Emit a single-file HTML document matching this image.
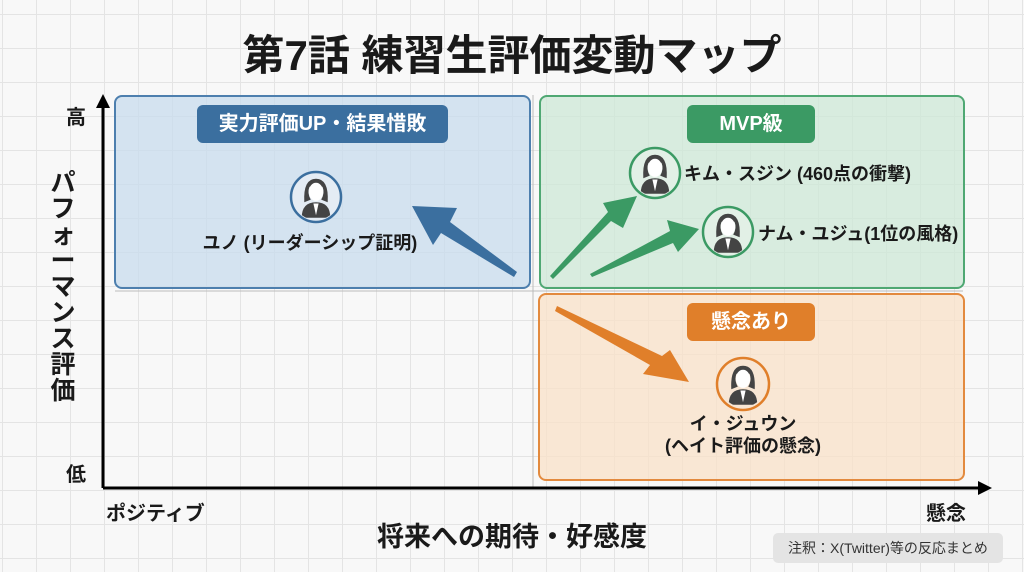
<!DOCTYPE html>
<html><head><meta charset="utf-8"><style>
body{margin:0;width:1024px;height:572px;overflow:hidden;background:#f8f8f8;font-family:"Liberation Sans","Noto Sans CJK JP",sans-serif;}
.g{position:absolute;left:0;top:0;width:1024px;height:572px;background-image:linear-gradient(#e4e4e4 1px,transparent 1px),linear-gradient(90deg,#e4e4e4 1px,transparent 1px);background-size:34px 34px;background-position:2px 14px;}
.t{position:absolute;font-weight:bold;color:#1a1a1a;white-space:nowrap;}
.box{position:absolute;border-radius:8px;border:2px solid;}
.pill{position:absolute;border-radius:6px;color:#fff;font-weight:bold;font-size:20px;text-align:center;line-height:38px;}
</style></head><body>
<div class="g"></div>
<div class="t" style="left:0;width:1024px;top:22px;text-align:center;font-size:42px;">第7話 練習生評価変動マップ</div>
<div class="box" style="left:114px;top:95px;width:413px;height:190px;background:rgba(200,220,238,0.75);border-color:#4d7fae;"></div>
<div class="box" style="left:539px;top:95px;width:422px;height:190px;background:rgba(205,232,215,0.75);border-color:#4fa873;"></div>
<div class="box" style="left:538px;top:293px;width:423px;height:184px;background:rgba(250,225,200,0.75);border-color:#e38a3e;"></div>
<div class="pill" style="left:197px;top:105px;width:251px;background:#3b6f9f;">実力評価UP・結果惜敗</div>
<div class="pill" style="left:687px;top:105px;width:128px;background:#3b9a64;">MVP級</div>
<div class="pill" style="left:687px;top:303px;width:128px;background:#e07f2a;">懸念あり</div>
<svg width="1024" height="572" style="position:absolute;left:0;top:0">
<defs>
<g id="av" transform="scale(1.3)"><path d="M-11,16 Q-11,4 0,4 Q11,4 11,16Z" fill="#444"/><path d="M-9,4 Q-10,-14 0,-14 Q10,-14 9,4 L4,2 Q7,-3 5,-8 Q0,-4 -5,-8 Q-7,-3 -4,2Z" fill="#444"/><ellipse cx="0" cy="-4" rx="5.5" ry="7" fill="#fff"/><path d="M-2,5 L0,14 L2,5Z" fill="#fff"/></g>
<clipPath id="c"><circle r="23"/></clipPath>
</defs>
<line x1="115" y1="291" x2="963" y2="291" stroke="#bbb" stroke-width="1"/>
<line x1="533" y1="95" x2="533" y2="488" stroke="#bbb" stroke-width="1"/>
<line x1="103" y1="488" x2="103" y2="104" stroke="#000" stroke-width="3"/>
<polygon points="103,94 96,108 110,108" fill="#000"/>
<line x1="103" y1="488" x2="980" y2="488" stroke="#000" stroke-width="3"/>
<polygon points="992,488 978,481 978,495" fill="#000"/>
<g transform="translate(316,197)"><circle r="25" fill="#e4ecf4" stroke="#3b6f9f" stroke-width="2.5"/><g clip-path="url(#c)"><use href="#av"/></g></g>
<g transform="translate(655,173)"><circle r="25" fill="#e2f0e6" stroke="#3b9a64" stroke-width="2.5"/><g clip-path="url(#c)"><use href="#av"/></g></g>
<g transform="translate(728,232)"><circle r="25" fill="#e2f0e6" stroke="#3b9a64" stroke-width="2.5"/><g clip-path="url(#c)"><use href="#av"/></g></g>
<g transform="translate(743,384)"><circle r="26" fill="#f8e6d4" stroke="#e07f2a" stroke-width="2.5"/><g clip-path="url(#c)"><use href="#av"/></g></g>
<polygon points="514,277 517,272 450,222 457,208 412,206 433,245 441,233" fill="#3b6f9f"/>
<polygon points="550,276 553,279 611,221 623,228 637,196 603,203 608,212" fill="#3b9a64"/>
<polygon points="590,274 592,277 673,243 678,252 699,229 667,220 670,231" fill="#3b9a64"/>
<polygon points="557,306 555,311 650,365 643,374 689,382 670,350 662,356" fill="#e07f2a"/>
</svg>
<div class="t" style="left:160px;width:300px;top:229px;text-align:center;font-size:18px;">ユノ (リーダーシップ証明)</div>
<div class="t" style="left:684px;top:160px;font-size:18px;">キム・スジン (460点の衝撃)</div>
<div class="t" style="left:758px;top:220px;font-size:18px;">ナム・ユジュ(1位の風格)</div>
<div class="t" style="left:643px;width:200px;top:413px;text-align:center;font-size:18px;line-height:22px;">イ・ジュウン<br>(ヘイト評価の懸念)</div>
<div class="t" style="left:66px;top:101px;font-size:20px;">高</div>
<div class="t" style="left:66px;top:458px;font-size:20px;">低</div>
<div class="t" style="left:49px;top:170px;width:28px;font-size:25px;line-height:26px;text-align:center;white-space:normal;">パフォーマンス評価</div>
<div class="t" style="left:106px;top:497px;font-size:20px;">ポジティブ</div>
<div class="t" style="left:926px;top:497px;font-size:20px;">懸念</div>
<div class="t" style="left:0;width:1024px;top:515px;text-align:center;font-size:27px;">将来への期待・好感度</div>
<div style="position:absolute;left:773px;top:533px;width:230px;height:30px;background:#e4e4e4;border-radius:5px;font-size:14px;line-height:30px;text-align:center;color:#333;">注釈：X(Twitter)等の反応まとめ</div>
</body></html>
